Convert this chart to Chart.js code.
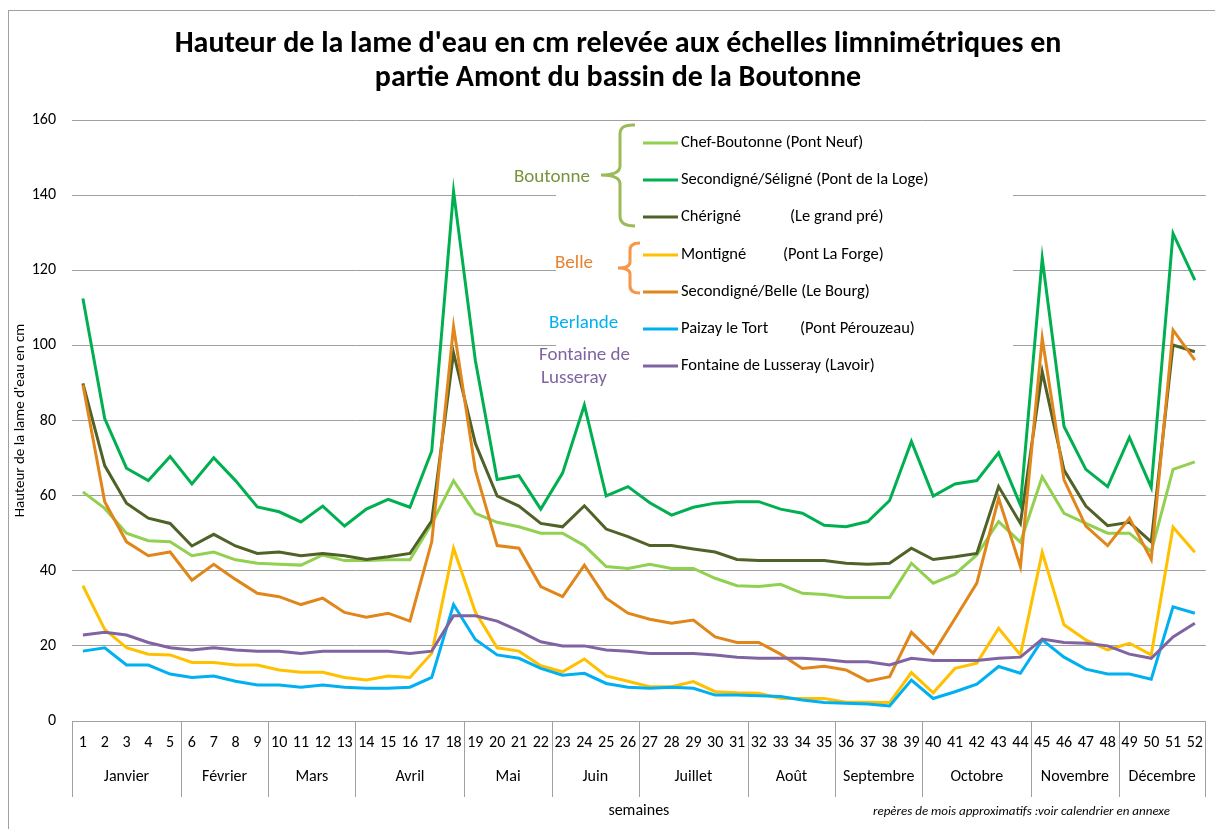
<!DOCTYPE html>
<html>
<head>
<meta charset="utf-8">
<script src="https://cdn.jsdelivr.net/npm/chart.js@4"></script>
<style>
html, body { margin: 0; padding: 0; background: #fff; }
#wrap { width: 1215px; height: 829px; }
</style>
</head>
<body>
<div id="wrap"><canvas id="myChart" width="1215" height="829"></canvas></div>
<script>
// semaines 1..52
var weeks = []
for (var w = 1; w <= 52; w++) weeks.push(String(w))

// mois : [libellé, première semaine, dernière semaine]
var months = [
  ['Janvier', 1, 5], ['Février', 6, 9], ['Mars', 10, 13], ['Avril', 14, 18],
  ['Mai', 19, 22], ['Juin', 23, 26], ['Juillet', 27, 31], ['Août', 32, 35],
  ['Septembre', 36, 39], ['Octobre', 40, 44], ['Novembre', 45, 48], ['Décembre', 49, 52]
]

var yTicks = [0, 20, 40, 60, 80, 100, 120, 140, 160]

// Boutonne
var chefBoutonne = [61, 56.6, 50, 48, 47.7, 44, 45, 42.9, 42, 41.7, 41.5, 44.2, 42.7, 42.7, 42.9, 42.9, 52.6, 64, 55.3, 52.9,
  51.7, 50, 50, 46.7, 41.1, 40.6, 41.7, 40.6, 40.6, 38, 36, 35.8, 36.4, 34, 33.7, 32.9, 32.9, 32.9, 42, 36.7,
  39.1, 44.2, 53.1, 47.6, 65, 55.3, 52.6, 50, 50, 45.1, 67, 69]
var secondigneSeligne = [112.5, 80.5, 67.3, 64, 70.4, 63.1, 70.1, 64, 57, 55.7, 53, 57.2, 51.9, 56.4, 59, 56.9, 71.9, 141, 96, 64.3,
  65.3, 56.4, 66, 84.1, 59.9, 62.4, 58.1, 54.8, 56.9, 58, 58.4, 58.4, 56.4, 55.3, 52.1, 51.7, 53.1, 58.7, 74.4, 59.9,
  63.1, 64, 71.4, 57.5, 123.2, 78.4, 67, 62.4, 75.5, 62.2, 129.8, 117.4]
var cherigne = [89.9, 68, 58, 54, 52.6, 46.6, 49.7, 46.6, 44.6, 45, 44, 44.6, 44, 43, 43.7, 44.6, 53.3, 98, 73.9, 59.9,
  57.2, 52.6, 51.7, 57.3, 51.1, 49.1, 46.7, 46.7, 45.8, 45, 43, 42.7, 42.7, 42.7, 42.7, 42, 41.7, 42, 46, 43,
  43.7, 44.6, 62.4, 52.6, 93, 66.8, 57.2, 52, 52.9, 47.7, 100.1, 98.3]
// Belle
var montigne = [36, 24.4, 19.5, 17.8, 17.6, 15.6, 15.6, 14.9, 14.9, 13.6, 13, 13, 11.6, 10.9, 12, 11.6, 18, 46, 29, 19.5,
  18.6, 14.7, 13.1, 16.5, 12, 10.6, 9.1, 9.1, 10.5, 7.8, 7.5, 7.4, 6, 6, 6, 5, 5, 4.9, 12.9, 7.5,
  14, 15.4, 24.7, 17.6, 44.9, 25.6, 21.6, 18.9, 20.7, 17.6, 51.6, 44.9]
var secondigneBelle = [89.5, 58.4, 47.7, 44, 45, 37.5, 41.7, 37.7, 34, 33.1, 31, 32.7, 28.9, 27.6, 28.7, 26.6, 47.7, 105, 66.8, 46.7,
  46, 35.8, 33.1, 41.5, 32.7, 28.7, 27.1, 26, 26.9, 22.4, 20.9, 20.9, 17.8, 14, 14.6, 13.6, 10.6, 11.8, 23.6, 18,
  27.3, 36.7, 59.3, 41.1, 101.9, 64.2, 51.9, 46.7, 54, 43, 104.1, 96.1]
// Berlande
var paizay = [18.6, 19.5, 14.9, 14.9, 12.5, 11.6, 12, 10.6, 9.6, 9.6, 9, 9.6, 9, 8.7, 8.7, 9, 11.6, 31, 21.7, 17.6,
  16.7, 14, 12.2, 12.7, 10, 9, 8.7, 9, 8.7, 6.9, 6.9, 6.7, 6.5, 5.6, 4.9, 4.7, 4.5, 4, 10.9, 6,
  7.8, 9.8, 14.5, 12.7, 21.6, 17, 13.8, 12.5, 12.5, 11.1, 30.4, 28.7]
// Fontaine de Lusseray
var fontaine = [22.9, 23.6, 22.9, 20.9, 19.5, 18.9, 19.5, 18.9, 18.6, 18.6, 18, 18.6, 18.6, 18.6, 18.6, 18, 18.6, 28, 28, 26.6,
  24, 21.1, 20, 20, 18.9, 18.6, 18, 18, 18, 17.6, 17, 16.7, 16.7, 16.7, 16.4, 15.8, 15.8, 14.9, 16.7, 16.1,
  16.1, 16.1, 16.7, 17, 21.8, 20.9, 20.7, 20, 17.8, 16.7, 22.4, 26]

var seriesLabels = [
  'Chef-Boutonne (Pont Neuf)',
  'Secondigné/Séligné (Pont de la Loge)',
  'Chérigné    (Le grand pré)',
  'Montigné    (Pont La Forge)',
  'Secondigné/Belle (Le Bourg)',
  'Paizay le Tort    (Pont Pérouzeau)',
  'Fontaine de Lusseray (Lavoir)'
]
var seriesData = [chefBoutonne, secondigneSeligne, cherigne, montigne, secondigneBelle, paizay, fontaine]
var seriesColors = ['#92D050', '#00B050', '#4F6228', '#FFC000', '#E0861A', '#00B0F0', '#8064A2']

var FONT = 'Carlito, Lato, "Open Sans", sans-serif'
Chart.defaults.font.family = FONT
Chart.defaults.color = '#000'

// titre, légende, mois, cadre
var decorPlugin = {
  id: 'decor',
  beforeDatasetsDraw: function (chart) {
    var ctx = chart.ctx
    var ca = chart.chartArea
    // zone blanche de la légende (cache le quadrillage)
    ctx.save()
    ctx.fillStyle = '#fff'
    ctx.fillRect(556, ca.top + 3, 457, 285)
    ctx.restore()
  },
  afterDraw: function (chart) {
    var ctx = chart.ctx
    var ca = chart.chartArea
    var x = chart.scales.x
    ctx.save()

    // cadre
    ctx.strokeStyle = '#A0A0A0'
    ctx.lineWidth = 1
    ctx.strokeRect(8.5, 10.5, 1300, 900)

    // titre
    ctx.fillStyle = '#000'
    ctx.font = 'bold 30px ' + FONT
    ctx.textAlign = 'center'
    ctx.textBaseline = 'middle'
    ctx.fillText("Hauteur de la lame d'eau en cm relevée aux échelles limnimétriques en", 618, 44)
    ctx.fillText('partie Amont du bassin de la Boutonne', 618, 78)

    // séparateurs et libellés des mois
    ctx.strokeStyle = '#A0A0A0'
    ctx.lineWidth = 1
    var half = (x.getPixelForValue(1) - x.getPixelForValue(0)) / 2
    ctx.font = '16px ' + FONT
    ctx.fillStyle = '#000'
    months.forEach(function (m) {
      var x0 = x.getPixelForValue(m[1] - 1) - half
      var x1 = x.getPixelForValue(m[2] - 1) + half
      ctx.beginPath()
      ctx.moveTo(Math.round(x0) + 0.5, ca.bottom)
      ctx.lineTo(Math.round(x0) + 0.5, ca.bottom + 76)
      ctx.stroke()
      ctx.fillText(m[0], (x0 + x1) / 2, ca.bottom + 56)
    })
    var xe = x.getPixelForValue(51) + half
    ctx.beginPath()
    ctx.moveTo(Math.round(xe) - 0.5, ca.bottom)
    ctx.lineTo(Math.round(xe) - 0.5, ca.bottom + 76)
    ctx.stroke()

    // note
    ctx.font = 'italic 13px ' + FONT
    ctx.textAlign = 'left'
    ctx.fillText('repères de mois approximatifs :voir calendrier en annexe', 873, 812)

    // légende
    var rows = [143, 180, 217, 255, 292, 329, 366]
    var detailX = { 2: 790, 3: 783, 5: 800 }
    ctx.font = '16.5px ' + FONT
    chart.data.datasets.forEach(function (ds, i) {
      ctx.strokeStyle = ds.borderColor
      ctx.lineWidth = 3
      ctx.beginPath()
      ctx.moveTo(643, rows[i])
      ctx.lineTo(678, rows[i])
      ctx.stroke()
      ctx.fillStyle = '#000'
      var parts = ds.label.split(/\s{2,}/)
      ctx.fillText(parts[0], 681, rows[i])
      if (parts.length > 1) ctx.fillText(parts[1], detailX[i], rows[i])
    })

    // groupes
    ctx.font = '19px ' + FONT
    ctx.fillStyle = '#77933C'
    ctx.fillText('Boutonne', 514, 177)
    ctx.fillStyle = '#E8822A'
    ctx.fillText('Belle', 555, 263)
    ctx.fillStyle = '#00B0F0'
    ctx.fillText('Berlande', 549, 323)
    ctx.fillStyle = '#8064A2'
    ctx.fillText('Fontaine de', 539, 355)
    ctx.fillText('Lusseray', 541, 378)

    // accolades
    ctx.lineWidth = 3
    ctx.strokeStyle = '#9BBB59'
    ctx.beginPath()
    ctx.moveTo(635, 125)
    ctx.quadraticCurveTo(620, 124, 620, 134)
    ctx.lineTo(620, 166)
    ctx.quadraticCurveTo(620, 175, 601, 175)
    ctx.quadraticCurveTo(620, 175, 620, 184)
    ctx.lineTo(620, 216)
    ctx.quadraticCurveTo(620, 226, 635, 226)
    ctx.stroke()
    ctx.strokeStyle = '#F79646'
    ctx.beginPath()
    ctx.moveTo(640, 243)
    ctx.quadraticCurveTo(630, 243, 630, 250)
    ctx.lineTo(630, 262)
    ctx.quadraticCurveTo(630, 268, 618, 268)
    ctx.quadraticCurveTo(630, 268, 630, 274)
    ctx.lineTo(630, 286)
    ctx.quadraticCurveTo(630, 293, 640, 293)
    ctx.stroke()

    ctx.restore()
  }
}

var datasets = seriesData.map(function (d, i) {
  return {
    label: seriesLabels[i],
    data: d,
    borderColor: seriesColors[i],
    backgroundColor: seriesColors[i],
    borderWidth: 3,
    pointRadius: 0,
    tension: 0,
    order: seriesData.length - i
  }
})

var ctx = document.getElementById('myChart').getContext('2d')
var chart = new Chart(ctx, {
  type: 'line',
  data: { labels: weeks, datasets: datasets },
  plugins: [decorPlugin],
  options: {
    responsive: false,
    animation: false,
    layout: { padding: { top: 120, right: 5, bottom: 8, left: 0 } },
    plugins: {
      legend: { display: false },
      title: { display: false },
      tooltip: { enabled: false }
    },
    scales: {
      x: {
        offset: true,
        grid: { display: false, drawTicks: false },
        border: { display: false },
        ticks: { autoSkip: false, maxRotation: 0, padding: 12, font: { size: 16 } },
        title: { display: true, text: 'semaines', font: { size: 16 }, padding: { top: 0, bottom: 0 } },
        afterFit: function (s) { s.height = 100 }
      },
      y: {
        min: 0,
        max: 160,
        afterBuildTicks: function (s) { s.ticks = yTicks.map(function (v) { return { value: v } }) },
        grid: { color: '#A0A0A0', lineWidth: 1, drawTicks: false },
        border: { display: false },
        ticks: { padding: 16, font: { size: 16 } },
        title: { display: true, text: "Hauteur de la lame d'eau en cm", font: { size: 15 }, padding: { top: 11, bottom: 0 } },
        afterFit: function (s) { s.width = 72 }
      }
    }
  }
})
</script>
</body>
</html>
